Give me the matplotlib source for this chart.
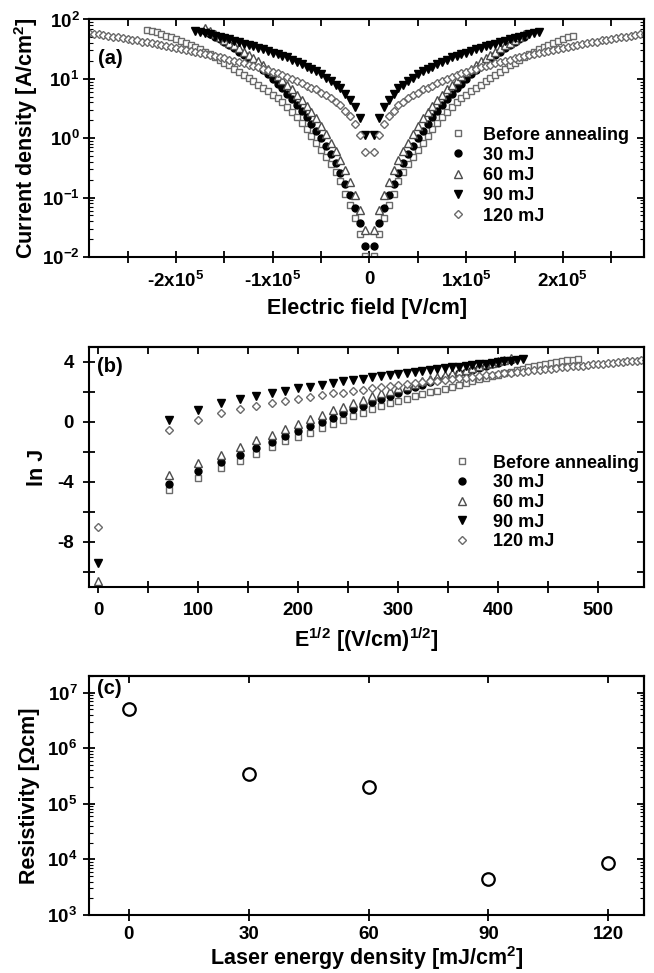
import matplotlib
matplotlib.use("Agg")
import matplotlib.pyplot as plt
import numpy as np
from matplotlib.ticker import MultipleLocator, FuncFormatter, NullFormatter, LogLocator

plt.rcParams['font.family'] = ['Liberation Sans', 'DejaVu Sans']
plt.rcParams['font.weight'] = 'bold'
plt.rcParams['axes.labelweight'] = 'bold'
plt.rcParams['mathtext.fontset'] = 'custom'
plt.rcParams['mathtext.rm'] = 'Liberation Sans:bold'
plt.rcParams['mathtext.it'] = 'Liberation Sans:italic:bold'
plt.rcParams['mathtext.bf'] = 'Liberation Sans:bold'
plt.rcParams['axes.unicode_minus'] = False
plt.rcParams['axes.linewidth'] = 1.5

# field steps (kV/cm), same sweep for every sample
field_kv = [0, 5, 10, 15, 20, 25, 30, 35, 40, 45, 50, 55, 60, 65, 70, 75, 80, 85, 90, 95,
            100, 105, 110, 115, 120, 125, 130, 135, 140, 145, 150, 155, 160, 165, 170, 175,
            180, 185, 190, 195, 200, 205, 210, 215, 220, 225, 230, 235, 240, 245, 250, 255,
            260, 265, 270, 275, 280, 285, 290, 295, 300]

labels = ['Before annealing', '30 mJ', '60 mJ', '90 mJ', '120 mJ']

# ln J (J in A/cm^2) at each field step
lnj_before = [-12.0, -4.58, -3.72, -3.08, -2.6, -2.15, -1.68, -1.3, -1.0, -0.72, -0.45,
              -0.18, 0.1, 0.36, 0.6, 0.82, 1.03, 1.22, 1.4, 1.55, 1.69,
              1.82, 1.96, 2.08, 2.2, 2.34, 2.46, 2.58, 2.7, 2.82, 2.93,
              3.04, 3.15, 3.25, 3.35, 3.44, 3.53, 3.62, 3.7, 3.78, 3.85,
              3.92, 3.98, 4.04, 4.1, 4.15, 4.2]
lnj_30 = [-12.0, -4.17, -3.31, -2.71, -2.2, -1.76, -1.35, -0.96, -0.61, -0.31, -0.01,
          0.28, 0.56, 0.82, 1.07, 1.29, 1.51, 1.73, 1.94, 2.12, 2.3,
          2.47, 2.63, 2.79, 2.94, 3.08, 3.22, 3.35, 3.48, 3.6, 3.72,
          3.83, 3.94, 4.05, 4.15]
lnj_60 = [-10.6, -3.57, -2.78, -2.2, -1.69, -1.25, -0.86, -0.51, -0.17, 0.16, 0.47,
          0.77, 1.0, 1.25, 1.47, 1.69, 1.9, 2.08, 2.25, 2.4, 2.55,
          2.7, 2.84, 2.98, 3.11, 3.24, 3.36, 3.48, 3.6, 3.71, 3.82,
          3.93, 4.04, 4.15, 4.26]
lnj_90 = [-9.4, 0.12, 0.8, 1.22, 1.5, 1.73, 1.93, 2.08, 2.22, 2.35, 2.48,
          2.6, 2.7, 2.78, 2.86, 2.97, 3.05, 3.13, 3.2, 3.26, 3.32,
          3.38, 3.44, 3.5, 3.56, 3.62, 3.67, 3.72, 3.78, 3.83, 3.88,
          3.93, 3.98, 4.03, 4.07, 4.12, 4.16]
lnj_120 = [-7.0, -0.53, 0.14, 0.56, 0.85, 1.06, 1.27, 1.4, 1.55, 1.66, 1.77,
           1.89, 1.93, 2.02, 2.13, 2.22, 2.3, 2.37, 2.44, 2.51, 2.57,
           2.63, 2.69, 2.75, 2.8, 2.85, 2.9, 2.95, 3.0, 3.05, 3.1,
           3.14, 3.19, 3.23, 3.27, 3.31, 3.35, 3.39, 3.43, 3.47, 3.51,
           3.55, 3.58, 3.62, 3.65, 3.69, 3.72, 3.75, 3.79, 3.82, 3.85,
           3.88, 3.91, 3.94, 3.97, 4.0, 4.03, 4.06, 4.08, 4.11, 4.14]
# number of steps measured on the positive side
n_pos = [43, 33, 33, 36, 61]

energy = [0, 30, 60, 90, 120]
resistivity = [5.0e6, 3.4e5, 2.05e5, 4.4e3, 8.7e3]

all_lnj = [lnj_before, lnj_30, lnj_60, lnj_90, lnj_120]
styles = [dict(marker='s', ms=5.0, mfc='white', mec='#6a6a6a'),
          dict(marker='o', ms=5.0, mfc='black', mec='black'),
          dict(marker='^', ms=5.6, mfc='white', mec='#4d4d4d'),
          dict(marker='v', ms=5.6, mfc='black', mec='black'),
          dict(marker='D', ms=4.3, mfc='white', mec='#6a6a6a')]

fig = plt.figure(figsize=(6.54, 9.73), dpi=100)
L, W = 0.136, 0.849
axa = fig.add_axes([L, 0.736, W, 0.244])
axb = fig.add_axes([L, 0.397, W, 0.246])
axc = fig.add_axes([L, 0.0596, W, 0.2456])


def frame(ax, xmaj, xmin, ymaj, ymin, xpad, ypad, logy=False):
    ax.xaxis.set_major_locator(MultipleLocator(xmaj))
    if xmin:
        ax.xaxis.set_minor_locator(MultipleLocator(xmin))
    if not logy:
        ax.yaxis.set_major_locator(MultipleLocator(ymaj))
        ax.yaxis.set_minor_locator(MultipleLocator(ymin))
    else:
        ax.yaxis.set_major_locator(LogLocator(base=10))
        ax.yaxis.set_minor_locator(LogLocator(base=10, subs=np.arange(2, 10)))
        ax.yaxis.set_minor_formatter(NullFormatter())
    ax.tick_params(which='both', direction='inout', length=8, width=1.3, labelsize=13.5)
    ax.tick_params(axis='x', pad=xpad)
    ax.tick_params(axis='y', pad=ypad)
    if logy:
        ax.tick_params(axis='y', which='minor', direction='in', length=3, width=0.8)
    top = ax.secondary_xaxis('top')
    top.xaxis.set_major_locator(MultipleLocator(xmaj))
    if xmin:
        top.xaxis.set_minor_locator(MultipleLocator(xmin))
    top.tick_params(which='both', direction='in', length=5, width=1.3, labeltop=False)
    right = ax.secondary_yaxis('right')
    if not logy:
        right.yaxis.set_major_locator(MultipleLocator(ymaj))
        right.yaxis.set_minor_locator(MultipleLocator(ymin))
        right.tick_params(which='both', direction='in', length=5, width=1.3, labelright=False)
    else:
        right.yaxis.set_major_locator(LogLocator(base=10))
        right.yaxis.set_minor_locator(LogLocator(base=10, subs=np.arange(2, 10)))
        right.tick_params(which='major', direction='in', length=5, width=1.3, labelright=False)
        right.tick_params(which='minor', direction='in', length=3, width=0.8, labelright=False)
        right.yaxis.set_minor_formatter(NullFormatter())
    for s in ax.spines.values():
        s.set_linewidth(1.5)


# ---- (a) J-E ----
field = np.array(field_kv) * 1000.0
for lnj, npos, st, lab in zip(all_lnj, n_pos, styles, labels):
    j = np.exp(np.array(lnj))
    n = len(lnj)
    e_all = np.concatenate([-field[1:n][::-1], field[:npos]])
    j_all = np.concatenate([j[1:n][::-1], j[:npos]])
    axa.plot(e_all, j_all, ls='none', mew=1.0, label=lab, **st)
axa.set_yscale('log')
axa.set_xlim(-2.9e5, 2.84e5)
axa.set_ylim(1e-2, 1e2)
frame(axa, 1e5, 0.5e5, None, None, 6.0, 2.8, logy=True)
axa.xaxis.set_major_formatter(FuncFormatter(
    lambda v, p: '0' if abs(v) < 1 else '%dx10$^{5}$' % int(round(v / 1e5))))
axa.set_xlabel('Electric field [V/cm]', fontsize=15.5)
axa.set_ylabel('Current density [A/cm$^2$]', fontsize=15.5)
axa.xaxis.set_label_coords(0.5, -0.172)
axa.yaxis.set_label_coords(-0.088, 0.5)
axa.text(0.016, 0.837, '(a)', transform=axa.transAxes, va='center', fontsize=14.5)
axa.legend(loc='upper left', bbox_to_anchor=(0.649, 0.549), frameon=False, fontsize=13,
           borderpad=0, borderaxespad=0, handlelength=1.0, handletextpad=0.89,
           labelspacing=0.18)

# ---- (b) ln J vs E^1/2 ----
for lnj, st, lab in zip(all_lnj, styles, labels):
    x = np.sqrt(field[:len(lnj)])
    axb.plot(x, lnj, ls='none', mew=1.0, label=lab, **st)
axb.set_xlim(-9.5, 546)
axb.set_ylim(-11, 4.96)
frame(axb, 100, 50, 4, 2, 7.2, 7.0)
axb.set_xlabel('E$^{1/2}$ [(V/cm)$^{1/2}$]', fontsize=15.5)
axb.set_ylabel('ln J', fontsize=15.5)
axb.xaxis.set_label_coords(0.5, -0.16)
axb.yaxis.set_label_coords(-0.074, 0.5)
axb.text(0.014, 0.919, '(b)', transform=axb.transAxes, va='center', fontsize=14.5)
axb.legend(loc='upper left', bbox_to_anchor=(0.655, 0.552), frameon=False, fontsize=13,
           borderpad=0, borderaxespad=0, handlelength=1.0, handletextpad=1.26,
           labelspacing=0.15)

# ---- (c) resistivity ----
axc.plot(energy, resistivity, ls='none', marker='o', ms=9, mfc='white', mec='black', mew=1.6)
axc.set_yscale('log')
axc.set_xlim(-10, 129)
axc.set_ylim(1e3, 2e7)
frame(axc, 30, None, None, None, 4.0, 4.3, logy=True)
axc.set_xlabel('Laser energy density [mJ/cm$^2$]', fontsize=15.5)
axc.set_ylabel('Resistivity [\u03a9cm]', fontsize=15.5)
axc.xaxis.set_label_coords(0.5, -0.122)
axc.yaxis.set_label_coords(-0.088, 0.5)
axc.text(0.014, 0.946, '(c)', transform=axc.transAxes, va='center', fontsize=14.5)

fig.savefig('out.png', dpi=100)
